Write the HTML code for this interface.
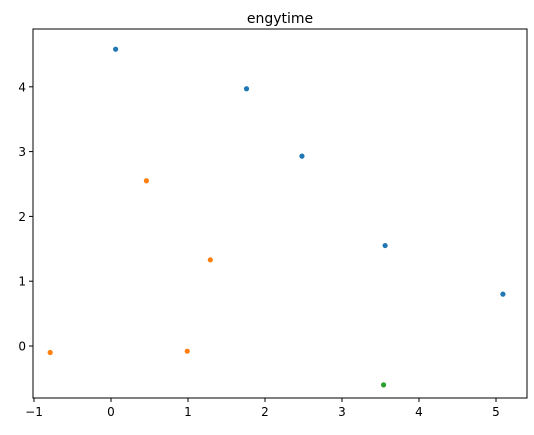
<!DOCTYPE html>
<html><head><style>
body{margin:0;background:#fff;}
svg{display:block;font-family:"DejaVu Sans","Liberation Sans",sans-serif;}
</style></head><body>
<svg id="c" width="534" height="435">
<text x="280" y="23" font-size="14" text-anchor="middle">engytime</text>
<rect x="33" y="29" width="494" height="369" fill="none" stroke="#000" stroke-width="1"/>
<g id="xt"></g>
<g id="yt"></g>
<g id="pts"></g>
</svg>
<script>
const xTicks=[-1,0,1,2,3,4,5];
const yTicks=[0,1,2,3,4];
const blueX=[0.06,1.76,2.48,3.56,5.09];
const blueY=[4.58,3.97,2.93,1.55,0.8];
const orangeX=[-0.79,0.46,1.29,0.99];
const orangeY=[-0.1,2.55,1.33,-0.08];
const greenX=[3.54];
const greenY=[-0.6];
const NS="http://www.w3.org/2000/svg";
const sx=v=>111+v*77;
const sy=v=>346-v*64.8;
const xt=document.getElementById('xt'),yt=document.getElementById('yt'),pts=document.getElementById('pts');
function el(t,a,p){const e=document.createElementNS(NS,t);for(const k in a)e.setAttribute(k,a[k]);p.appendChild(e);return e;}
xTicks.forEach(v=>{
 const l=el('line',{x1:sx(v),x2:sx(v),y1:398,y2:402,stroke:'#000'},xt);
 
 
 const t=el('text',{x:sx(v),y:416,'font-size':12,'text-anchor':'middle'},xt);
 t.textContent=v<0?'\u2212'+(-v):v;
 
 
});
yTicks.forEach(v=>{
 const l=el('line',{x1:29,x2:33,y1:sy(v),y2:sy(v),stroke:'#000'},yt);
 
 
 const t=el('text',{x:26,y:sy(v)+4.5,'font-size':12,'text-anchor':'end'},yt);
 t.textContent=v;
 
 
});
function series(X,Y,col,name){
 X.forEach((x,i)=>{
  const c=el('circle',{cx:sx(x),cy:sy(Y[i]),r:2.6,fill:col},pts);
  
  
 });
}
series(blueX,blueY,'#1f77b4','point-cluster-0');
series(orangeX,orangeY,'#ff7f0e','point-cluster-1');
series(greenX,greenY,'#2ca02c','point-cluster-2');
</script>
</body></html>
